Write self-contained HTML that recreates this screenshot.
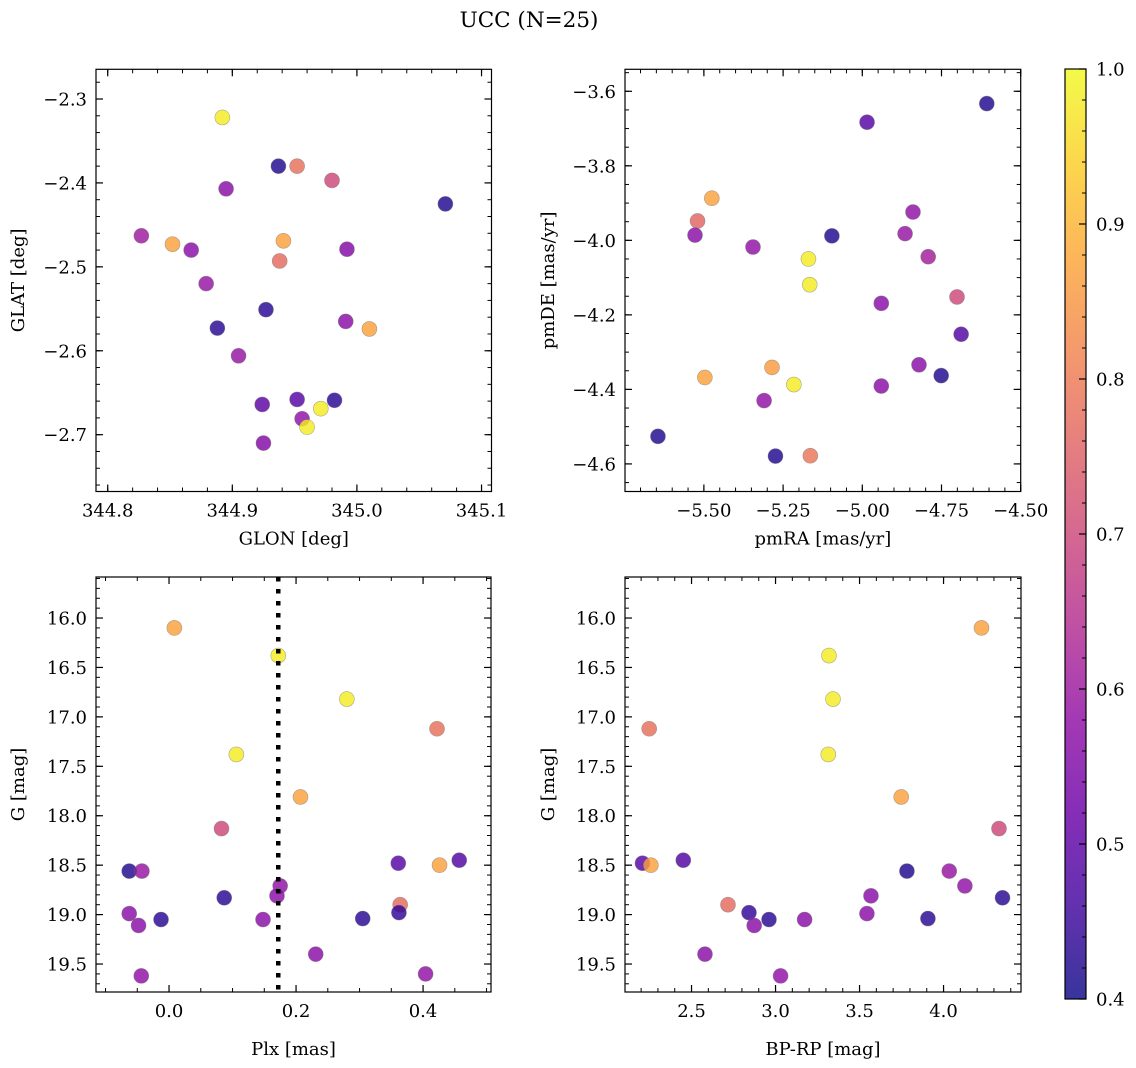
<!DOCTYPE html>
<html><head><meta charset="utf-8">
<style>
html,body{margin:0;padding:0;background:#fff;}
svg{display:block;font-family:"DejaVu Serif","Liberation Serif",serif;}
</style></head>
<body>
<svg id="fig" width="1136" height="1068" viewBox="0 0 1136 1068" xmlns="http://www.w3.org/2000/svg">
<text x="529" y="27" text-anchor="middle" font-size="21.5">UCC (N=25)</text>
</svg>
<script>
// ---- data: top-left (GLON vs GLAT) ----
const glon = [344.892,344.937,344.952,344.980,344.895,345.071,344.827,344.852,344.867,344.941,344.992,344.938,344.879,344.927,344.888,344.991,345.010,344.905,344.924,344.952,344.982,344.971,344.956,344.960,344.925];
const glat = [-2.322,-2.380,-2.380,-2.397,-2.407,-2.425,-2.463,-2.473,-2.480,-2.469,-2.479,-2.493,-2.520,-2.551,-2.573,-2.565,-2.574,-2.606,-2.664,-2.658,-2.659,-2.669,-2.681,-2.691,-2.710];
const probTL = [0.98,0.42,0.78,0.70,0.57,0.42,0.60,0.87,0.57,0.87,0.56,0.77,0.59,0.43,0.43,0.57,0.87,0.59,0.50,0.49,0.43,0.98,0.58,0.98,0.56];
// ---- data: top-right (pmRA vs pmDE) ----
const pmra = [-4.607,-4.985,-5.475,-5.520,-5.528,-5.345,-5.096,-4.840,-4.865,-4.792,-5.170,-5.166,-4.701,-4.940,-4.688,-4.821,-4.751,-4.940,-5.285,-5.497,-5.216,-5.310,-5.645,-5.274,-5.164];
const pmde = [-3.633,-3.683,-3.887,-3.948,-3.986,-4.018,-3.988,-3.924,-3.982,-4.044,-4.050,-4.119,-4.152,-4.169,-4.252,-4.334,-4.363,-4.391,-4.341,-4.368,-4.387,-4.430,-4.526,-4.579,-4.578];
const probTR = [0.42,0.49,0.87,0.76,0.57,0.58,0.42,0.58,0.59,0.61,0.98,0.98,0.70,0.57,0.48,0.57,0.42,0.57,0.86,0.87,0.98,0.58,0.42,0.42,0.79];
// ---- data: bottom-left (Plx vs G) ----
const plx = [0.0084,0.172,0.280,0.422,0.106,0.207,0.0826,-0.0627,-0.0427,0.361,0.426,0.457,0.175,0.170,0.0869,0.364,0.362,-0.0627,-0.0126,0.148,0.305,-0.048,0.231,0.404,-0.0437];
const gmag = [16.10,16.38,16.82,17.12,17.38,17.81,18.13,18.56,18.56,18.48,18.50,18.45,18.71,18.81,18.83,18.90,18.98,18.99,19.05,19.05,19.04,19.11,19.40,19.60,19.62];
const prob = [0.87,0.98,0.98,0.78,0.98,0.87,0.70,0.42,0.59,0.49,0.87,0.48,0.58,0.57,0.43,0.77,0.44,0.57,0.43,0.57,0.43,0.57,0.57,0.58,0.58];
const plxLine = 0.172;
// ---- data: bottom-right (BP-RP vs G), null = missing ----
const bprp = [4.226,3.318,3.342,2.248,3.314,3.748,4.330,3.782,4.034,2.208,2.258,2.451,4.127,3.568,4.351,2.717,2.842,3.544,2.961,3.173,3.907,2.873,2.580,null,3.030];
// ---- ticks ----
const ticksGlon = [344.8,344.9,345.0,345.1];
const ticksGlat = [-2.3,-2.4,-2.5,-2.6,-2.7];
const ticksPmra = [-5.50,-5.25,-5.00,-4.75,-4.50];
const ticksPmde = [-3.6,-3.8,-4.0,-4.2,-4.4,-4.6];
const ticksPlx = [0.0,0.2,0.4];
const ticksG = [16.0,16.5,17.0,17.5,18.0,18.5,19.0,19.5];
const ticksBprp = [2.5,3.0,3.5,4.0];
const ticksCbar = [0.4,0.5,0.6,0.7,0.8,0.9,1.0];

const NS="http://www.w3.org/2000/svg";
const svg=document.getElementById('fig');
const FS=18;
const plasma=["#0d0887","#41049d","#6a00a8","#8f0da4","#b12a90","#cc4778","#e16462","#f2844b","#fca636","#fcce25","#f0f921"];
function hex(h){return [parseInt(h.substr(1,2),16),parseInt(h.substr(3,2),16),parseInt(h.substr(5,2),16)];}
function cmap(v){
  let t=(v-0.4)/0.6; t=Math.max(0,Math.min(1,t));
  const f=t*10, i=Math.min(9,Math.floor(f)), r=f-i;
  const a=hex(plasma[i]), b=hex(plasma[i+1]);
  return 'rgb('+a.map((x,k)=>Math.round(x+(b[k]-x)*r)).join(',')+')';
}
function el(tag,attrs,parent){const e=document.createElementNS(NS,tag);for(const k in attrs)e.setAttribute(k,attrs[k]);(parent||svg).appendChild(e);return e;}

function panel(o){
  const g=el('g',{});
  
  
  const sx=v=>o.L+(v-o.x0)/(o.x1-o.x0)*(o.R-o.L);
  const sy=v=>o.T+(v-o.y0)/(o.y1-o.y0)*(o.B-o.T);
  for(let i=0;i<o.xs.length;i++){
    if(o.xs[i]===null||o.ys[i]===null)continue;
    const c=el('circle',{cx:sx(o.xs[i]),cy:sy(o.ys[i]),r:7.5,fill:cmap(o.cs[i]),'fill-opacity':0.82,stroke:'#777','stroke-opacity':0.6,'stroke-width':0.6},g);
    
    
  }
  if(o.vline!==undefined){
    const ln=el('line',{x1:sx(o.vline),x2:sx(o.vline),y1:o.T,y2:o.B,stroke:'#000','stroke-width':4.5,'stroke-dasharray':'4.5 7.5'},g);
    
    
  }
  const fr=el('rect',{x:o.L,y:o.T,width:o.R-o.L,height:o.B-o.T,fill:'none',stroke:'#000','stroke-width':1.2},g);
  
  
  const eps=1e-9;
  for(let v=Math.ceil(o.x0/o.xm-eps)*o.xm; v<=o.x1+eps; v+=o.xm){
    const x=sx(v);
    el('line',{x1:x,x2:x,y1:o.B,y2:o.B-4,stroke:'#000','stroke-width':1},g);
    el('line',{x1:x,x2:x,y1:o.T,y2:o.T+4,stroke:'#000','stroke-width':1},g);
  }
  const ylo=Math.min(o.y0,o.y1), yhi=Math.max(o.y0,o.y1);
  for(let v=Math.ceil(ylo/o.ym-eps)*o.ym; v<=yhi+eps; v+=o.ym){
    const y=sy(v);
    el('line',{x1:o.L,x2:o.L+4,y1:y,y2:y,stroke:'#000','stroke-width':1},g);
    el('line',{x1:o.R,x2:o.R-4,y1:y,y2:y,stroke:'#000','stroke-width':1},g);
  }
  o.xt.forEach(v=>{
    const x=sx(v);
    el('line',{x1:x,x2:x,y1:o.B,y2:o.B-7,stroke:'#000','stroke-width':1.2},g);
    el('line',{x1:x,x2:x,y1:o.T,y2:o.T+7,stroke:'#000','stroke-width':1.2},g);
    const t=el('text',{x:x,y:o.B+25,'text-anchor':'middle','font-size':FS},g);
    t.textContent=o.xf(v).replace('-','\u2212');
    
    
  });
  o.yt.forEach(v=>{
    const y=sy(v);
    el('line',{x1:o.L,x2:o.L+7,y1:y,y2:y,stroke:'#000','stroke-width':1.2},g);
    el('line',{x1:o.R,x2:o.R-7,y1:y,y2:y,stroke:'#000','stroke-width':1.2},g);
    const t=el('text',{x:o.L-9,y:y+6.5,'text-anchor':'end','font-size':FS},g);
    t.textContent=o.yf(v).replace('-','\u2212');
    
    
  });
  const xl=el('text',{x:(o.L+o.R)/2,y:o.B+o.xlo,'text-anchor':'middle','font-size':FS},g);
  xl.textContent=o.xlab;
  
  
  const yx=o.ylx, yy=(o.T+o.B)/2;
  const yl=el('text',{x:yx,y:yy,'text-anchor':'middle','font-size':FS,transform:'rotate(-90 '+yx+' '+yy+')'},g);
  yl.textContent=o.ylab;
  
  
}

panel({name:'glon-glat-panel',L:96,R:491.5,T:69.3,B:491.5,x0:344.7906,x1:345.108,y0:-2.2646,y1:-2.7677,
  xs:glon,ys:glat,cs:probTL,xt:ticksGlon,yt:ticksGlat,xm:0.02,ym:0.02,xlo:53,
  xf:v=>v.toFixed(1),yf:v=>v.toFixed(1),xlab:'GLON [deg]',ylab:'GLAT [deg]',ylx:24});
panel({name:'pm-panel',L:625,R:1020.7,T:69.3,B:491.5,x0:-5.749,x1:-4.5,y0:-3.541,y1:-4.674,
  xs:pmra,ys:pmde,cs:probTR,xt:ticksPmra,yt:ticksPmde,xm:0.05,ym:0.05,xlo:53,
  xf:v=>v.toFixed(2),yf:v=>v.toFixed(1),xlab:'pmRA [mas/yr]',ylab:'pmDE [mas/yr]',ylx:554});
panel({name:'plx-g-panel',L:96,R:491,T:577,B:992,x0:-0.115,x1:0.507,y0:15.585,y1:19.783,
  xs:plx,ys:gmag,cs:prob,xt:ticksPlx,yt:ticksG,xm:0.05,ym:0.1,vline:plxLine,xlo:63,
  xf:v=>v.toFixed(1),yf:v=>v.toFixed(1),xlab:'Plx [mas]',ylab:'G [mag]',ylx:24});
panel({name:'cmd-panel',L:625,R:1021,T:577,B:992,x0:2.104,x1:4.461,y0:15.585,y1:19.783,
  xs:bprp,ys:gmag,cs:prob,xt:ticksBprp,yt:ticksG,xm:0.1,ym:0.1,xlo:63,
  xf:v=>v.toFixed(1),yf:v=>v.toFixed(1),xlab:'BP-RP [mag]',ylab:'G [mag]',ylx:554});

(function(){
  const L=1065,R=1086,T=69,B=999;
  const defs=el('defs',{});
  const lg=el('linearGradient',{id:'cbg',x1:0,y1:1,x2:0,y2:0},defs);
  for(let k=0;k<=20;k++){const v=0.4+0.6*k/20;el('stop',{offset:k/20,'stop-color':cmap(v),'stop-opacity':0.82},lg);}
  const g=el('g',{});
  
  
  el('rect',{x:L,y:T,width:R-L,height:B-T,fill:'url(#cbg)',stroke:'#000','stroke-width':1.2},g);
  const sy=v=>B-(v-0.4)/0.6*(B-T);
  for(let k=0;k<=30;k++){const y=sy(0.4+k*0.02);el('line',{x1:R,x2:R-4,y1:y,y2:y,stroke:'#000','stroke-width':1},g);}
  ticksCbar.forEach(v=>{
    const y=sy(v);
    el('line',{x1:R,x2:R-7,y1:y,y2:y,stroke:'#000','stroke-width':1.2},g);
    const t=el('text',{x:R+10,y:y+6.5,'font-size':FS},g);
    t.textContent=v.toFixed(1);
    
    
  });
})();
</script>
</body></html>
